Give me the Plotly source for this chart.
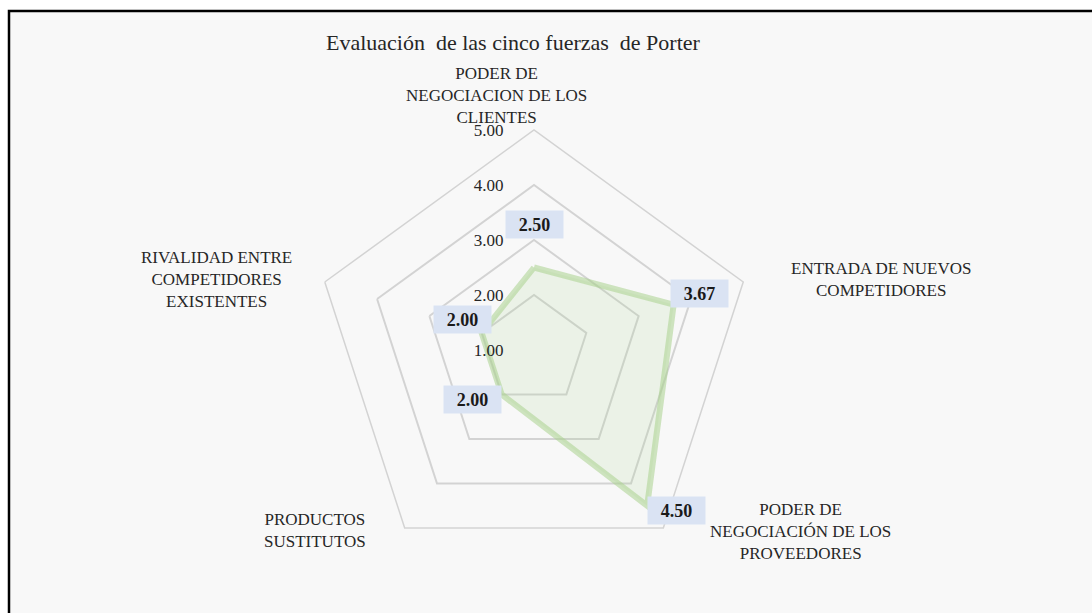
import math
import plotly.graph_objects as go

# ---- data ----
categories = [
    "PODER DE NEGOCIACION DE LOS CLIENTES",
    "ENTRADA DE NUEVOS COMPETIDORES",
    "PODER DE NEGOCIACIÓN DE LOS PROVEEDORES",
    "PRODUCTOS SUSTITUTOS",
    "RIVALIDAD ENTRE COMPETIDORES EXISTENTES",
]
category_labels = [
    "PODER DE<br>NEGOCIACION DE LOS<br>CLIENTES",
    "ENTRADA DE NUEVOS<br>COMPETIDORES",
    "PODER DE<br>NEGOCIACIÓN DE LOS<br>PROVEEDORES",
    "PRODUCTOS<br>SUSTITUTOS",
    "RIVALIDAD ENTRE<br>COMPETIDORES<br>EXISTENTES",
]
values = [2.50, 3.67, 4.50, 2.00, 2.00]
radial_ticks = [1, 2, 3, 4, 5]
title_text = "Evaluación&nbsp; de las cinco fuerzas&nbsp; de Porter"

# ---- layout geometry ----
W, H = 1092, 613
CX, CY, R = 534, 350, 220          # polar centre / radius in px
RMIN, RMAX = 1, 5
FONT = "Liberation Serif, Times New Roman, serif"

dom_x = [(CX - R) / W, (CX + R) / W]
dom_y = [(H - CY - R) / H, (H - CY + R) / H]


def polar_to_paper(val, idx, n):
    ang = math.radians(90 - 360 * idx / n)
    rpx = (val - RMIN) / (RMAX - RMIN) * R
    px = CX + rpx * math.cos(ang)
    py = CY - rpx * math.sin(ang)
    return px / W, 1 - py / H


fig = go.Figure()
fig.add_trace(go.Scatterpolar(
    r=values + [values[0]],
    theta=categories + [categories[0]],
    mode="lines",
    fill="toself",
    fillcolor="rgba(169,209,142,0.16)",
    line=dict(color="rgba(169,209,142,0.55)", width=6),
    hoverinfo="skip",
    showlegend=False,
))

# data labels (boxes)
label_style = [
    dict(xanchor="center", yanchor="bottom", xshift=0, yshift=29),
    dict(xanchor="left", yanchor="bottom", xshift=-4, yshift=-3),
    dict(xanchor="left", yanchor="middle", xshift=0, yshift=-5),
    dict(xanchor="right", yanchor="middle", xshift=0, yshift=-5),
    dict(xanchor="right", yanchor="bottom", xshift=10, yshift=-1),
]
annotations = []
n = len(categories)
for i, v in enumerate(values):
    x, y = polar_to_paper(v, i, n)
    annotations.append(dict(
        x=x, y=y, xref="paper", yref="paper", showarrow=False,
        text=f"<b>{v:.2f}</b>", width=57, height=27,
        bgcolor="#DAE3F3", borderpad=0,
        font=dict(family=FONT, size=18, color="#1a1a1a"),
        **label_style[i],
    ))

# category labels (px centre positions)
cat_pos = [(496, 96), (881, 280), (800, 531), (315, 530), (216, 280)]
for txt, (px, py) in zip(category_labels, cat_pos):
    annotations.append(dict(
        x=px / W, y=1 - py / H, xref="paper", yref="paper", showarrow=False,
        text=txt, align="center", xanchor="center", yanchor="middle",
        font=dict(family=FONT, size=17, color="#262626"),
    ))

# title
annotations.append(dict(
    x=513 / W, y=1 - 43 / H, xref="paper", yref="paper", showarrow=False,
    text=title_text, xanchor="center", yanchor="middle",
    font=dict(family=FONT, size=22, color="#262626"),
))

fig.update_layout(
    width=W, height=H,
    margin=dict(l=0, r=0, t=0, b=0),
    paper_bgcolor="white",
    annotations=annotations,
    shapes=[dict(
        type="rect", xref="paper", yref="paper", layer="below",
        x0=9 / W, x1=1.02, y0=-0.02, y1=1 - 11 / H,
        line=dict(color="black", width=2.5),
        fillcolor="#F8F8F8",
    )],
    polar=dict(
        domain=dict(x=dom_x, y=dom_y),
        bgcolor="rgba(0,0,0,0)",
        gridshape="linear",
        radialaxis=dict(
            range=[RMIN, RMAX], tickvals=radial_ticks, tickformat=".2f",
            angle=90, side="counterclockwise", showline=False,
            ticks="outside", ticklen=24, tickcolor="rgba(0,0,0,0)",
            tickangle=90,
            gridcolor="#D3D3D3", gridwidth=1.5,
            tickfont=dict(family=FONT, size=17, color="#262626"),
        ),
        angularaxis=dict(
            rotation=90, direction="clockwise",
            showticklabels=False, ticks="", showgrid=False,
            showline=True, linecolor="#D3D3D3", linewidth=1.5,
        ),
    ),
)

fig.write_html(
    "out.html",
    config={"displayModeBar": False},
    post_script="document.body.style.margin='0';document.body.style.overflow='hidden';",
)
